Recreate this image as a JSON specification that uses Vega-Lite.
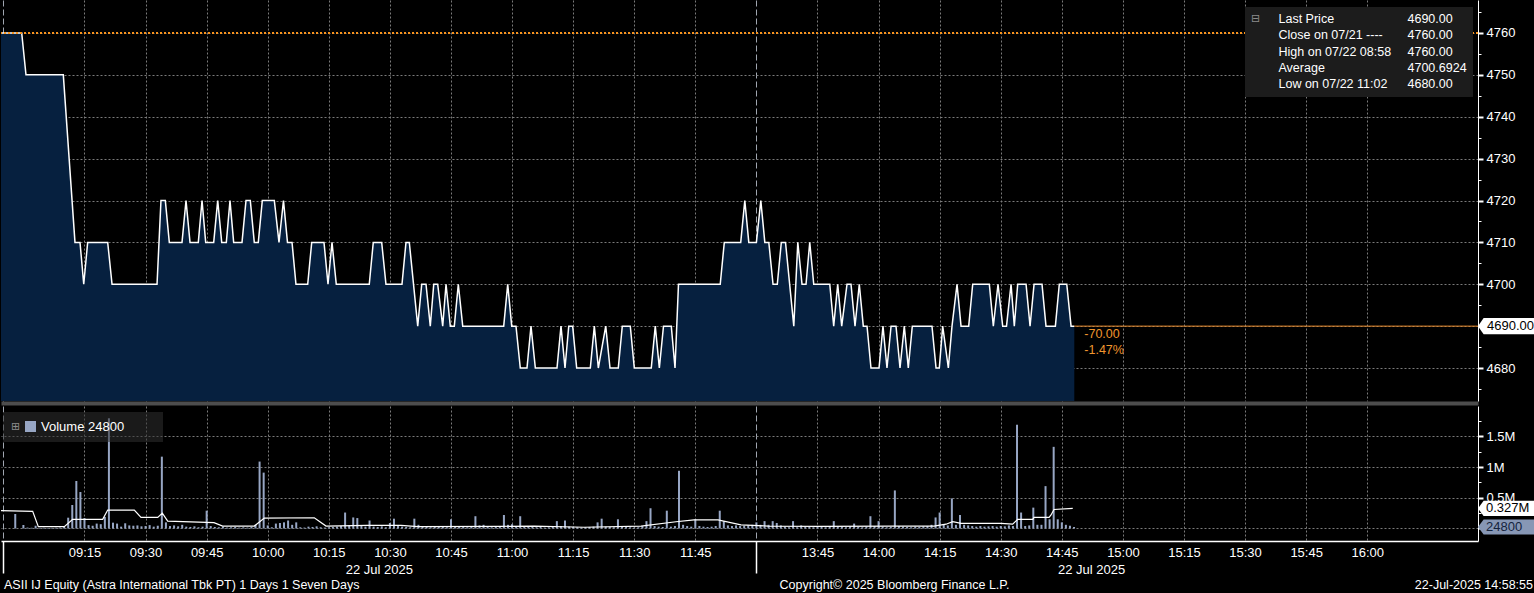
{
  "$schema": "https://vega.github.io/schema/vega-lite/v6.json",
  "background": "#000000",
  "padding": 0,
  "autosize": {"type": "pad"},
  "spacing": 5,
  "bounds": "flush",
  "config": {
    "view": {"stroke": null},
    "font": "Liberation Sans",
    "axis": {"labelFont": "Liberation Sans", "labelColor": "#ffffff", "labelFontSize": 13, "domainColor": "#ffffff", "tickColor": "#ffffff"},
    "legend": {"labelFont": "Liberation Sans", "labelColor": "#ffffff", "labelFontSize": 13}
  },
  "resolve": {"scale": {"color": "independent", "shape": "independent", "opacity": "independent", "x": "independent", "y": "independent"}},
  "datasets": {
    "price": [
      {"time":"08:54:30","price":4760},{"time":"08:59:35","price":4760},{"time":"09:00:38","price":4750},{"time":"09:09:48","price":4750},
      {"time":"09:12:40","price":4710},{"time":"09:13:54","price":4710},{"time":"09:14:49","price":4700},{"time":"09:15:47","price":4710},
      {"time":"09:20:42","price":4710},{"time":"09:21:46","price":4700},{"time":"09:32:49","price":4700},{"time":"09:33:47","price":4720},
      {"time":"09:34:51","price":4720},{"time":"09:35:50","price":4710},{"time":"09:38:57","price":4710},{"time":"09:39:56","price":4720},
      {"time":"09:40:55","price":4710},{"time":"09:42:57","price":4710},{"time":"09:43:52","price":4720},{"time":"09:44:46","price":4710},
      {"time":"09:46:44","price":4710},{"time":"09:47:43","price":4720},{"time":"09:48:42","price":4710},{"time":"09:49:50","price":4710},
      {"time":"09:50:44","price":4720},{"time":"09:51:38","price":4710},{"time":"09:53:41","price":4710},{"time":"09:54:40","price":4720},
      {"time":"09:55:43","price":4720},{"time":"09:56:42","price":4710},{"time":"09:57:41","price":4710},{"time":"09:58:40","price":4720},
      {"time":"10:01:37","price":4720},{"time":"10:02:46","price":4710},{"time":"10:03:52","price":4720},{"time":"10:04:51","price":4710},
      {"time":"10:05:58","price":4710},{"time":"10:06:56","price":4700},{"time":"10:09:49","price":4700},{"time":"10:10:48","price":4710},
      {"time":"10:13:49","price":4710},{"time":"10:14:48","price":4700},{"time":"10:15:47","price":4710},{"time":"10:16:50","price":4700},
      {"time":"10:24:56","price":4700},{"time":"10:25:55","price":4710},{"time":"10:27:59","price":4710},{"time":"10:29:02","price":4700},
      {"time":"10:32:58","price":4700},{"time":"10:33:57","price":4710},{"time":"10:34:46","price":4710},{"time":"10:36:50","price":4690},
      {"time":"10:37:49","price":4700},{"time":"10:38:52","price":4700},{"time":"10:39:55","price":4690},{"time":"10:40:46","price":4700},
      {"time":"10:41:44","price":4700},{"time":"10:42:58","price":4690},{"time":"10:43:47","price":4700},{"time":"10:44:50","price":4690},
      {"time":"10:45:49","price":4690},{"time":"10:46:48","price":4700},{"time":"10:47:53","price":4690},{"time":"10:57:57","price":4690},
      {"time":"10:58:56","price":4700},{"time":"10:59:55","price":4690},{"time":"11:00:58","price":4690},{"time":"11:02:01","price":4680},
      {"time":"11:03:40","price":4680},{"time":"11:04:39","price":4690},{"time":"11:05:43","price":4680},{"time":"11:11:02","price":4680},
      {"time":"11:12:01","price":4690},{"time":"11:13:00","price":4680},{"time":"11:13:55","price":4690},{"time":"11:14:53","price":4690},
      {"time":"11:15:52","price":4680},{"time":"11:19:13","price":4680},{"time":"11:20:12","price":4690},{"time":"11:21:11","price":4680},
      {"time":"11:23:00","price":4690},{"time":"11:24:03","price":4680},{"time":"11:26:05","price":4680},{"time":"11:27:04","price":4690},
      {"time":"11:29:02","price":4690},{"time":"11:30:01","price":4680},{"time":"11:34:11","price":4680},{"time":"11:35:10","price":4690},
      {"time":"11:36:10","price":4680},{"time":"11:37:11","price":4690},{"time":"11:39:06","price":4690},{"time":"11:40:01","price":4680},
      {"time":"11:40:52","price":4700},{"time":"11:51:07","price":4700},{"time":"11:52:07","price":4710},{"time":"11:56:09","price":4710},
      {"time":"11:57:09","price":4720},{"time":"11:58:08","price":4710},{"time":"12:00:00","price":4710},{"time":"13:31:05","price":4720},
      {"time":"13:32:04","price":4710},{"time":"13:33:03","price":4710},{"time":"13:34:05","price":4700},{"time":"13:35:08","price":4700},
      {"time":"13:36:07","price":4710},{"time":"13:37:09","price":4710},{"time":"13:39:11","price":4690},{"time":"13:40:10","price":4710},
      {"time":"13:41:12","price":4700},{"time":"13:42:11","price":4700},{"time":"13:43:06","price":4710},{"time":"13:44:05","price":4700},
      {"time":"13:48:01","price":4700},{"time":"13:48:59","price":4690},{"time":"13:49:58","price":4700},{"time":"13:50:57","price":4690},
      {"time":"13:52:15","price":4700},{"time":"13:53:14","price":4700},{"time":"13:54:13","price":4690},{"time":"13:55:16","price":4700},
      {"time":"13:56:15","price":4690},{"time":"13:57:10","price":4690},{"time":"13:58:08","price":4680},{"time":"14:00:07","price":4680},
      {"time":"14:01:05","price":4690},{"time":"14:02:04","price":4680},{"time":"14:03:04","price":4690},{"time":"14:04:17","price":4690},
      {"time":"14:05:16","price":4680},{"time":"14:06:19","price":4690},{"time":"14:07:18","price":4680},{"time":"14:08:17","price":4690},
      {"time":"14:13:07","price":4690},{"time":"14:14:07","price":4680},{"time":"14:14:55","price":4680},{"time":"14:15:45","price":4690},
      {"time":"14:17:08","price":4680},{"time":"14:18:02","price":4690},{"time":"14:19:16","price":4700},{"time":"14:20:15","price":4690},
      {"time":"14:22:08","price":4690},{"time":"14:23:07","price":4700},{"time":"14:27:12","price":4700},{"time":"14:28:11","price":4690},
      {"time":"14:29:20","price":4700},{"time":"14:30:29","price":4690},{"time":"14:31:25","price":4690},{"time":"14:32:32","price":4700},
      {"time":"14:33:20","price":4690},{"time":"14:34:10","price":4700},{"time":"14:36:13","price":4700},{"time":"14:37:12","price":4690},
      {"time":"14:38:11","price":4700},{"time":"14:40:08","price":4700},{"time":"14:41:07","price":4690},{"time":"14:43:25","price":4690},
      {"time":"14:44:23","price":4700},{"time":"14:46:13","price":4700},{"time":"14:47:16","price":4690},{"time":"14:48:04","price":4690}
    ],
    "close": [{"label": "Close on 07/21", "price": 4760}],
    "last": [{"time": "14:48:04", "price": 4690, "tag": "4690.00", "change": "-70.00\n-1.47%"}],
    "priceLegend": [
      {"series": "Last Price", "value": "4690.00"},
      {"series": "Close on 07/21 ----", "value": "4760.00"},
      {"series": "High on 07/22 08:58", "value": "4760.00"},
      {"series": "Average", "value": "4700.6924"},
      {"series": "Low on 07/22 11:02", "value": "4680.00"}
    ],
    "volume": [
      {"time":"08:58","vol":236000},{"time":"09:00","vol":57000},{"time":"09:01","vol":15000},{"time":"09:02","vol":12000},{"time":"09:03","vol":45000},
      {"time":"09:04","vol":10000},{"time":"09:05","vol":12000},{"time":"09:06","vol":8000},{"time":"09:07","vol":10000},{"time":"09:08","vol":12000},
      {"time":"09:09","vol":15000},{"time":"09:10","vol":25000},{"time":"09:11","vol":176000},{"time":"09:12","vol":383000},{"time":"09:13","vol":774000},
      {"time":"09:14","vol":594000},{"time":"09:15","vol":170000},{"time":"09:16","vol":55000},{"time":"09:17","vol":45000},{"time":"09:18","vol":80000},
      {"time":"09:19","vol":70000},{"time":"09:20","vol":190000},{"time":"09:21","vol":1795000},{"time":"09:22","vol":95000},{"time":"09:23","vol":80000},
      {"time":"09:24","vol":30000},{"time":"09:25","vol":85000},{"time":"09:26","vol":50000},{"time":"09:27","vol":45000},{"time":"09:28","vol":50000},
      {"time":"09:29","vol":35000},{"time":"09:30","vol":40000},{"time":"09:31","vol":55000},{"time":"09:32","vol":30000},{"time":"09:33","vol":45000},
      {"time":"09:34","vol":1170000},{"time":"09:35","vol":100000},{"time":"09:36","vol":40000},{"time":"09:37","vol":50000},{"time":"09:38","vol":35000},
      {"time":"09:39","vol":60000},{"time":"09:40","vol":30000},{"time":"09:41","vol":25000},{"time":"09:42","vol":35000},{"time":"09:43","vol":20000},
      {"time":"09:44","vol":30000},{"time":"09:45","vol":290000},{"time":"09:46","vol":40000},{"time":"09:47","vol":25000},{"time":"09:48","vol":20000},
      {"time":"09:49","vol":30000},{"time":"09:50","vol":15000},{"time":"09:51","vol":20000},{"time":"09:52","vol":25000},{"time":"09:53","vol":15000},
      {"time":"09:54","vol":20000},{"time":"09:55","vol":15000},{"time":"09:56","vol":25000},{"time":"09:57","vol":60000},{"time":"09:58","vol":1090000},
      {"time":"09:59","vol":910000},{"time":"10:00","vol":50000},{"time":"10:01","vol":20000},{"time":"10:02","vol":80000},{"time":"10:03","vol":90000},
      {"time":"10:04","vol":100000},{"time":"10:05","vol":130000},{"time":"10:06","vol":60000},{"time":"10:07","vol":100000},{"time":"10:08","vol":20000},
      {"time":"10:09","vol":15000},{"time":"10:10","vol":30000},{"time":"10:11","vol":25000},{"time":"10:12","vol":35000},{"time":"10:13","vol":20000},
      {"time":"10:14","vol":15000},{"time":"10:15","vol":20000},{"time":"10:16","vol":25000},{"time":"10:17","vol":30000},{"time":"10:18","vol":40000},
      {"time":"10:19","vol":260000},{"time":"10:20","vol":50000},{"time":"10:21","vol":180000},{"time":"10:22","vol":170000},{"time":"10:23","vol":40000},
      {"time":"10:24","vol":30000},{"time":"10:25","vol":130000},{"time":"10:26","vol":30000},{"time":"10:27","vol":25000},{"time":"10:28","vol":35000},
      {"time":"10:29","vol":20000},{"time":"10:30","vol":90000},{"time":"10:31","vol":160000},{"time":"10:32","vol":40000},{"time":"10:33","vol":30000},
      {"time":"10:34","vol":25000},{"time":"10:35","vol":20000},{"time":"10:36","vol":160000},{"time":"10:37","vol":60000},{"time":"10:38","vol":30000},
      {"time":"10:39","vol":25000},{"time":"10:40","vol":20000},{"time":"10:41","vol":30000},{"time":"10:42","vol":40000},{"time":"10:43","vol":25000},
      {"time":"10:44","vol":20000},{"time":"10:45","vol":150000},{"time":"10:46","vol":30000},{"time":"10:47","vol":25000},{"time":"10:48","vol":40000},
      {"time":"10:49","vol":20000},{"time":"10:50","vol":30000},{"time":"10:51","vol":200000},{"time":"10:52","vol":50000},{"time":"10:53","vol":60000},
      {"time":"10:54","vol":30000},{"time":"10:55","vol":20000},{"time":"10:56","vol":25000},{"time":"10:57","vol":30000},{"time":"10:58","vol":220000},
      {"time":"10:59","vol":60000},{"time":"11:00","vol":70000},{"time":"11:01","vol":40000},{"time":"11:02","vol":200000},{"time":"11:03","vol":30000},
      {"time":"11:04","vol":25000},{"time":"11:05","vol":30000},{"time":"11:06","vol":20000},{"time":"11:07","vol":25000},{"time":"11:08","vol":15000},
      {"time":"11:09","vol":20000},{"time":"11:10","vol":30000},{"time":"11:11","vol":120000},{"time":"11:12","vol":40000},{"time":"11:13","vol":130000},
      {"time":"11:14","vol":30000},{"time":"11:15","vol":25000},{"time":"11:16","vol":20000},{"time":"11:17","vol":15000},{"time":"11:18","vol":20000},
      {"time":"11:19","vol":25000},{"time":"11:20","vol":30000},{"time":"11:21","vol":100000},{"time":"11:22","vol":160000},{"time":"11:23","vol":30000},
      {"time":"11:24","vol":25000},{"time":"11:25","vol":20000},{"time":"11:26","vol":150000},{"time":"11:27","vol":30000},{"time":"11:28","vol":25000},
      {"time":"11:29","vol":20000},{"time":"11:30","vol":15000},{"time":"11:31","vol":20000},{"time":"11:32","vol":40000},{"time":"11:33","vol":120000},
      {"time":"11:34","vol":330000},{"time":"11:35","vol":40000},{"time":"11:36","vol":30000},{"time":"11:37","vol":25000},{"time":"11:38","vol":290000},
      {"time":"11:39","vol":30000},{"time":"11:40","vol":40000},{"time":"11:41","vol":940000},{"time":"11:42","vol":60000},{"time":"11:43","vol":40000},
      {"time":"11:44","vol":30000},{"time":"11:45","vol":150000},{"time":"11:46","vol":40000},{"time":"11:47","vol":30000},{"time":"11:48","vol":25000},
      {"time":"11:49","vol":30000},{"time":"11:50","vol":40000},{"time":"11:51","vol":290000},{"time":"11:52","vol":120000},{"time":"11:53","vol":50000},
      {"time":"11:54","vol":40000},{"time":"11:55","vol":50000},{"time":"11:56","vol":40000},{"time":"11:57","vol":45000},{"time":"11:58","vol":50000},
      {"time":"11:59","vol":60000},
      {"time":"13:30","vol":100000},{"time":"13:31","vol":60000},{"time":"13:32","vol":120000},{"time":"13:33","vol":60000},{"time":"13:34","vol":120000},
      {"time":"13:35","vol":90000},{"time":"13:36","vol":50000},{"time":"13:37","vol":30000},{"time":"13:38","vol":20000},{"time":"13:39","vol":120000},
      {"time":"13:40","vol":20000},{"time":"13:41","vol":50000},{"time":"13:42","vol":30000},{"time":"13:43","vol":25000},{"time":"13:44","vol":20000},
      {"time":"13:45","vol":30000},{"time":"13:46","vol":25000},{"time":"13:47","vol":20000},{"time":"13:48","vol":30000},{"time":"13:49","vol":120000},
      {"time":"13:50","vol":30000},{"time":"13:51","vol":25000},{"time":"13:52","vol":20000},{"time":"13:53","vol":30000},{"time":"13:54","vol":80000},
      {"time":"13:55","vol":25000},{"time":"13:56","vol":20000},{"time":"13:57","vol":30000},{"time":"13:58","vol":200000},{"time":"13:59","vol":40000},
      {"time":"14:00","vol":120000},{"time":"14:01","vol":30000},{"time":"14:02","vol":20000},{"time":"14:03","vol":25000},{"time":"14:04","vol":620000},
      {"time":"14:05","vol":40000},{"time":"14:06","vol":30000},{"time":"14:07","vol":25000},{"time":"14:08","vol":20000},{"time":"14:09","vol":30000},
      {"time":"14:10","vol":25000},{"time":"14:11","vol":35000},{"time":"14:12","vol":40000},{"time":"14:13","vol":60000},{"time":"14:14","vol":180000},
      {"time":"14:15","vol":260000},{"time":"14:16","vol":60000},{"time":"14:17","vol":50000},{"time":"14:18","vol":490000},{"time":"14:19","vol":60000},
      {"time":"14:20","vol":220000},{"time":"14:21","vol":60000},{"time":"14:22","vol":50000},{"time":"14:23","vol":40000},{"time":"14:24","vol":30000},
      {"time":"14:25","vol":40000},{"time":"14:26","vol":30000},{"time":"14:27","vol":35000},{"time":"14:28","vol":40000},{"time":"14:29","vol":30000},
      {"time":"14:30","vol":40000},{"time":"14:31","vol":35000},{"time":"14:32","vol":50000},{"time":"14:33","vol":40000},{"time":"14:34","vol":1690000},
      {"time":"14:35","vol":260000},{"time":"14:36","vol":40000},{"time":"14:37","vol":50000},{"time":"14:38","vol":340000},{"time":"14:39","vol":60000},
      {"time":"14:40","vol":60000},{"time":"14:41","vol":690000},{"time":"14:42","vol":150000},{"time":"14:43","vol":1330000},{"time":"14:44","vol":150000},
      {"time":"14:45","vol":100000},{"time":"14:46","vol":60000},{"time":"14:47","vol":45000},{"time":"14:48","vol":24800}
    ],
    "volAvg": [
      {"time":"08:54:30","vol":290000},{"time":"09:02:17","vol":280000},{"time":"09:03:40","vol":30000},{"time":"09:10:03","vol":30000},
      {"time":"09:12:06","vol":150000},{"time":"09:19:28","vol":150000},{"time":"09:20:42","vol":300000},{"time":"09:27:14","vol":300000},
      {"time":"09:28:53","vol":180000},{"time":"09:32:59","vol":180000},{"time":"09:34:07","vol":250000},{"time":"09:35:26","vol":120000},
      {"time":"09:46:48","vol":95000},{"time":"09:48:56","vol":40000},{"time":"09:56:42","vol":40000},{"time":"09:59:10","vol":170000},
      {"time":"10:11:26","vol":175000},{"time":"10:14:19","vol":40000},{"time":"10:24:23","vol":50000},{"time":"10:32:44","vol":50000},
      {"time":"10:36:50","vol":30000},{"time":"10:57:17","vol":35000},{"time":"11:05:23","vol":40000},{"time":"11:17:40","vol":20000},
      {"time":"11:31:40","vol":40000},{"time":"11:40:16","vol":110000},{"time":"11:44:41","vol":140000},{"time":"11:50:34","vol":140000},
      {"time":"11:56:13","vol":60000},{"time":"13:32:51","vol":40000},{"time":"13:45:52","vol":35000},{"time":"14:03:47","vol":40000},
      {"time":"14:13:37","vol":40000},{"time":"14:16:34","vol":70000},{"time":"14:18:13","vol":110000},{"time":"14:20:15","vol":85000},
      {"time":"14:30:04","vol":85000},{"time":"14:32:56","vol":70000},{"time":"14:34:10","vol":150000},{"time":"14:37:52","vol":150000},
      {"time":"14:38:10","vol":180000},{"time":"14:41:52","vol":180000},{"time":"14:42:21","vol":220000},{"time":"14:43:05","vol":310000},
      {"time":"14:47:41","vol":327000}
    ],
    "volTags": [
      {"kind": "avg", "vol": 327000, "label": "0.327M"},
      {"kind": "last", "vol": 24800, "label": "24800"}
    ],
    "footer": [
      {"left": "ASII IJ Equity (Astra International Tbk PT) 1 Days 1 Seven Days", "center": "Copyright© 2025 Bloomberg Finance L.P.", "right": "22-Jul-2025 14:58:55"}
    ]
  },
  "vconcat": [
    {
      "width": 1477,
      "height": 401,
      "resolve": {"axis": {"y": "independent"}},
      "layer": [
        {
          "data": {"name": "price"},
          "transform": [
            {"calculate": "toNumber(substring(datum.time,0,2))*60 + toNumber(substring(datum.time,3,5)) + (length(datum.time) > 5 ? toNumber(substring(datum.time,6,8))/60 : 0)", "as": "clock"},
            {"calculate": "datum.clock <= 720 ? datum.clock - 540 : datum.clock - 630", "as": "t"}
          ],
          "mark": {"type": "area", "color": "#06203f", "opacity": 1, "clip": true},
          "encoding": {
            "x": {"field": "t", "type": "quantitative", "scale": {"domain": [-5.5, 357.2], "nice": false, "zero": false, "padding": 0},
              "axis": {"orient": "bottom", "title": null, "values": [-5,15,30,45,60,75,90,105,120,135,150,165,180,195,210,225,240,255,270,285,300,315,330,87.3,262.2],
                "labels": false, "ticks": false, "domain": true, "domainColor": "#4d4d4d", "domainWidth": 4, "offset": 2,
                "grid": true,
                "gridOpacity": {"condition": {"test": "datum.value == 87.3 || datum.value == 262.2", "value": 0}, "value": 1},
                "gridDash": {"condition": {"test": "datum.value == -5 || datum.value == 180", "value": [6, 3]}, "value": [2, 2]},
                "gridColor": {"condition": {"test": "datum.value == -5 || datum.value == 180", "value": "#a0a6b0"}, "value": "#7a7a7a"}}},
            "y": {"field": "price", "type": "quantitative", "scale": {"domain": [4672.12, 4767.88], "nice": false, "zero": false},
              "axis": {"orient": "right", "title": null, "values": [4680,4690,4700,4710,4720,4730,4740,4750,4760],
                "format": "d", "tickSize": 5, "tickWidth": 2,
                "labelPadding": 3, "domainColor": "#ffffff",
                "grid": true, "gridColor": "#7a7a7a", "gridDash": [2, 2]}}
          }
        },
        {
          "data": {"name": "price"},
          "transform": [
            {"calculate": "toNumber(substring(datum.time,0,2))*60 + toNumber(substring(datum.time,3,5)) + (length(datum.time) > 5 ? toNumber(substring(datum.time,6,8))/60 : 0)", "as": "clock"},
            {"calculate": "datum.clock <= 720 ? datum.clock - 540 : datum.clock - 630", "as": "t"}
          ],
          "mark": {"type": "line", "color": "#ffffff", "strokeWidth": 1.5, "clip": true},
          "encoding": {
            "x": {"field": "t", "type": "quantitative"},
            "y": {"field": "price", "type": "quantitative", "axis": null}
          }
        },
        {
          "data": {"name": "close"},
          "mark": {"type": "rule", "color": "#f7931e", "strokeWidth": 2, "strokeDash": [2, 2]},
          "encoding": {"y": {"field": "price", "type": "quantitative",
            "axis": {"orient": "right", "title": null, "values": [4675,4685,4695,4705,4715,4725,4735,4745,4755,4765],
              "labels": false, "grid": false, "domain": false, "ticks": true, "tickSize": 3, "tickWidth": 1, "tickColor": "#ffffff"}}}
        },
        {
          "data": {"name": "last"},
          "transform": [
            {"calculate": "toNumber(substring(datum.time,0,2))*60 + toNumber(substring(datum.time,3,5)) + (length(datum.time) > 5 ? toNumber(substring(datum.time,6,8))/60 : 0)", "as": "clock"},
            {"calculate": "datum.clock <= 720 ? datum.clock - 540 : datum.clock - 630", "as": "t"}
          ],
          "mark": {"type": "rule", "color": "#e8892a", "strokeWidth": 1},
          "encoding": {
            "x": {"field": "t", "type": "quantitative"},
            "x2": {"value": "width"},
            "y": {"field": "price", "type": "quantitative", "axis": null}
          }
        },
        {
          "data": {"name": "last"},
          "transform": [
            {"calculate": "toNumber(substring(datum.time,0,2))*60 + toNumber(substring(datum.time,3,5)) + (length(datum.time) > 5 ? toNumber(substring(datum.time,6,8))/60 : 0)", "as": "clock"},
            {"calculate": "datum.clock <= 720 ? datum.clock - 540 : datum.clock - 630", "as": "t"}
          ],
          "mark": {"type": "text", "align": "left", "baseline": "top", "dx": 10, "dy": 2, "color": "#f0962e", "fontSize": 12.5, "lineBreak": "\n", "lineHeight": 16},
          "encoding": {
            "x": {"field": "t", "type": "quantitative"},
            "y": {"field": "price", "type": "quantitative", "axis": null},
            "text": {"field": "change"}
          }
        },
        {
          "data": {"name": "last"},
          "mark": {"type": "point", "shape": "M0,0L0.2,-0.29L2,-0.29L2,0.29L0.2,0.29Z", "size": 3136, "filled": true, "color": "#ffffff", "opacity": 1, "strokeWidth": 0},
          "encoding": {"x": {"value": "width"}, "y": {"field": "price", "type": "quantitative", "axis": null}}
        },
        {
          "data": {"name": "last"},
          "mark": {"type": "text", "align": "left", "baseline": "middle", "dx": 9, "color": "#000000", "fontSize": 13},
          "encoding": {"x": {"value": "width"}, "y": {"field": "price", "type": "quantitative", "axis": null}, "text": {"field": "tag"}}
        },
        {
          "data": {"name": "priceLegend"},
          "transform": [
            {"window": [{"op": "row_number", "as": "row"}]},
            {"fold": ["series", "value"], "as": ["col", "text"]},
            {"calculate": "datum.col == 'series' ? datum.text : datum.series + '|' + datum.text", "as": "entry"},
            {"calculate": "(datum.col == 'series' ? 0 : 10) + datum.row", "as": "ord"}
          ],
          "mark": {"type": "point", "filled": true, "opacity": 0, "size": 0, "strokeWidth": 0},
          "encoding": {
            "color": {"field": "entry", "type": "nominal", "sort": {"field": "ord", "op": "min"},
              "scale": {"range": ["#ffffff", "#f7931e", "#8c8c8c", "#8c8c8c", "#8c8c8c", "rgba(0,0,0,0)", "rgba(0,0,0,0)", "rgba(0,0,0,0)", "rgba(0,0,0,0)", "rgba(0,0,0,0)"]},
              "legend": {"orient": "none", "legendX": 1244, "legendY": 7, "columns": 2, "columnPadding": 0, "rowPadding": 3.2, "padding": 6,
                "fillColor": "#1c1c1c", "symbolSize": 144, "symbolOpacity": 1, "symbolStrokeWidth": 0, "labelLimit": 300,
                "labelFontSize": 12.5, "labelOffset": 3,
                "labelExpr": "indexof(datum.label, '|') >= 0 ? split(datum.label, '|')[1] : datum.label",
                "title": "⊟", "titleOrient": "left", "titleAnchor": "start", "titleBaseline": "top", "titleColor": "#8c8c8c", "titleFont": "DejaVu Sans", "titleFontSize": 11, "titleFontWeight": "normal", "titlePadding": 2}},
            "shape": {"field": "entry", "type": "nominal", "sort": {"field": "ord", "op": "min"},
              "scale": {"range": ["square", "square", "M-0.55,-1H0.55V-0.78H0.13V1H-0.13V-0.78H-0.55Z", "M-1,-0.1H1V0.1H-1Z M-0.32,0A0.32,0.32,0,1,0,0.32,0A0.32,0.32,0,1,0,-0.32,0Z", "M-0.13,-1H0.13V0.78H0.55V1H-0.55V0.78H-0.13Z", "square", "square", "square", "square", "square"]}}
          }
        }
      ]
    },
    {
      "width": 1477,
      "height": 135,
      "resolve": {"axis": {"y": "independent"}},
      "layer": [
        {
          "data": {"name": "volume"},
          "transform": [
            {"calculate": "toNumber(substring(datum.time,0,2))*60 + toNumber(substring(datum.time,3,5)) + (length(datum.time) > 5 ? toNumber(substring(datum.time,6,8))/60 : 0)", "as": "clock"},
            {"calculate": "datum.clock <= 720 ? datum.clock - 540 : datum.clock - 630", "as": "t"}
          ],
          "mark": {"type": "bar", "size": 2},
          "encoding": {
            "x": {"field": "t", "type": "quantitative", "scale": {"domain": [-5.5, 357.2], "nice": false, "zero": false, "padding": 0},
              "axis": {"orient": "bottom", "title": null, "values": [-5,15,30,45,60,75,90,105,120,135,150,165,180,195,210,225,240,255,270,285,300,315,330,87.3,262.2],
                "labelExpr": "datum.value == 87.3 || datum.value == 262.2 ? ['', '22 Jul 2025'] : (datum.value == -5 || datum.value == 180) ? '' : timeFormat(datetime(2025, 6, 22, 0, (datum.value < 180 ? 540 : 630) + datum.value), '%H:%M')",
                "labelOverlap": false, "labelFlush": false, "labelBound": false, "labelPadding": -27, "labelLineHeight": 17,
                "tickSize": 32, "tickWidth": 1.5, "tickColor": "#ffffff",
                "tickOpacity": {"condition": {"test": "datum.value == -5 || datum.value == 180", "value": 1}, "value": 0},
                "domainColor": "#ffffff", "domainWidth": 1.5,
                "grid": true,
                "gridOpacity": {"condition": {"test": "datum.value == 87.3 || datum.value == 262.2", "value": 0}, "value": 1},
                "gridDash": {"condition": {"test": "datum.value == -5 || datum.value == 180", "value": [6, 3]}, "value": [2, 2]},
                "gridColor": {"condition": {"test": "datum.value == -5 || datum.value == 180", "value": "#a0a6b0"}, "value": "#7a7a7a"}}},
            "y": {"field": "vol", "type": "quantitative", "scale": {"domain": [-203600, 1995000], "nice": false},
              "axis": {"orient": "right", "title": null, "values": [0, 500000, 1000000, 1500000],
                "labelExpr": "datum.value > 0 ? (datum.value / 1000000) + 'M' : ''",
                "tickSize": 5, "tickWidth": 2,
                "labelPadding": 3, "domainColor": "#ffffff",
                "grid": true, "gridColor": "#7a7a7a", "gridDash": [2, 2]}},
            "color": {"datum": "Volume", "type": "nominal", "scale": {"range": ["#97a6c4"]},
              "legend": {"orient": "none", "legendX": 2, "legendY": 6, "padding": 8, "fillColor": "rgba(48,48,48,0.55)", "symbolType": "square", "symbolSize": 121,
                "symbolStrokeWidth": 0, "labelExpr": "datum.label + ' 24800\u2800\u2800\u2800'",
                "title": "⊞", "titleOrient": "left", "titleColor": "#8c8c8c", "titleFont": "DejaVu Sans", "titleFontSize": 11, "titleFontWeight": "normal", "titlePadding": 3}}
          }
        },
        {
          "data": {"name": "volAvg"},
          "transform": [
            {"calculate": "toNumber(substring(datum.time,0,2))*60 + toNumber(substring(datum.time,3,5)) + (length(datum.time) > 5 ? toNumber(substring(datum.time,6,8))/60 : 0)", "as": "clock"},
            {"calculate": "datum.clock <= 720 ? datum.clock - 540 : datum.clock - 630", "as": "t"}
          ],
          "mark": {"type": "line", "color": "#ffffff", "strokeWidth": 1.2, "clip": true},
          "encoding": {
            "x": {"field": "t", "type": "quantitative"},
            "y": {"field": "vol", "type": "quantitative",
              "axis": {"orient": "right", "title": null, "values": [250000, 750000, 1250000, 1750000],
                "labels": false, "grid": false, "domain": false, "ticks": true, "tickSize": 3, "tickWidth": 1, "tickColor": "#ffffff"}}
          }
        },
        {
          "data": {"name": "volTags"},
          "mark": {"type": "point", "shape": "M0,0L0.2,-0.27L2,-0.27L2,0.27L0.2,0.27Z", "size": 3136, "filled": true, "opacity": 1, "strokeWidth": 0},
          "encoding": {
            "x": {"value": "width"},
            "y": {"field": "vol", "type": "quantitative", "axis": null},
            "fill": {"condition": {"test": "datum.kind == 'avg'", "value": "#ffffff"}, "value": "#8797b5"}
          }
        },
        {
          "data": {"name": "volTags"},
          "mark": {"type": "text", "align": "left", "baseline": "middle", "dx": 8, "fontSize": 13},
          "encoding": {
            "x": {"value": "width"},
            "y": {"field": "vol", "type": "quantitative", "axis": null},
            "text": {"field": "label"},
            "color": {"condition": {"test": "datum.kind == 'avg'", "value": "#000000"}, "value": "#15243d"}
          }
        }
      ]
    },
    {
      "width": 1534,
      "height": 78,
      "data": {"name": "footer"},
      "layer": [
        {
          "mark": {"type": "text", "align": "left", "baseline": "middle", "dx": 3, "color": "#ffffff", "fontSize": 12.5},
          "encoding": {"x": {"datum": 0, "type": "quantitative", "scale": {"domain": [0, 1], "nice": false}, "axis": null}, "text": {"field": "left"}}
        },
        {
          "mark": {"type": "text", "align": "center", "baseline": "middle", "color": "#ffffff", "fontSize": 12.5},
          "encoding": {"x": {"datum": 0.5825, "type": "quantitative"}, "text": {"field": "center"}}
        },
        {
          "mark": {"type": "text", "align": "right", "baseline": "middle", "dx": -2, "color": "#ffffff", "fontSize": 12.5},
          "encoding": {"x": {"datum": 1, "type": "quantitative"}, "text": {"field": "right"}}
        }
      ]
    }
  ]
}
